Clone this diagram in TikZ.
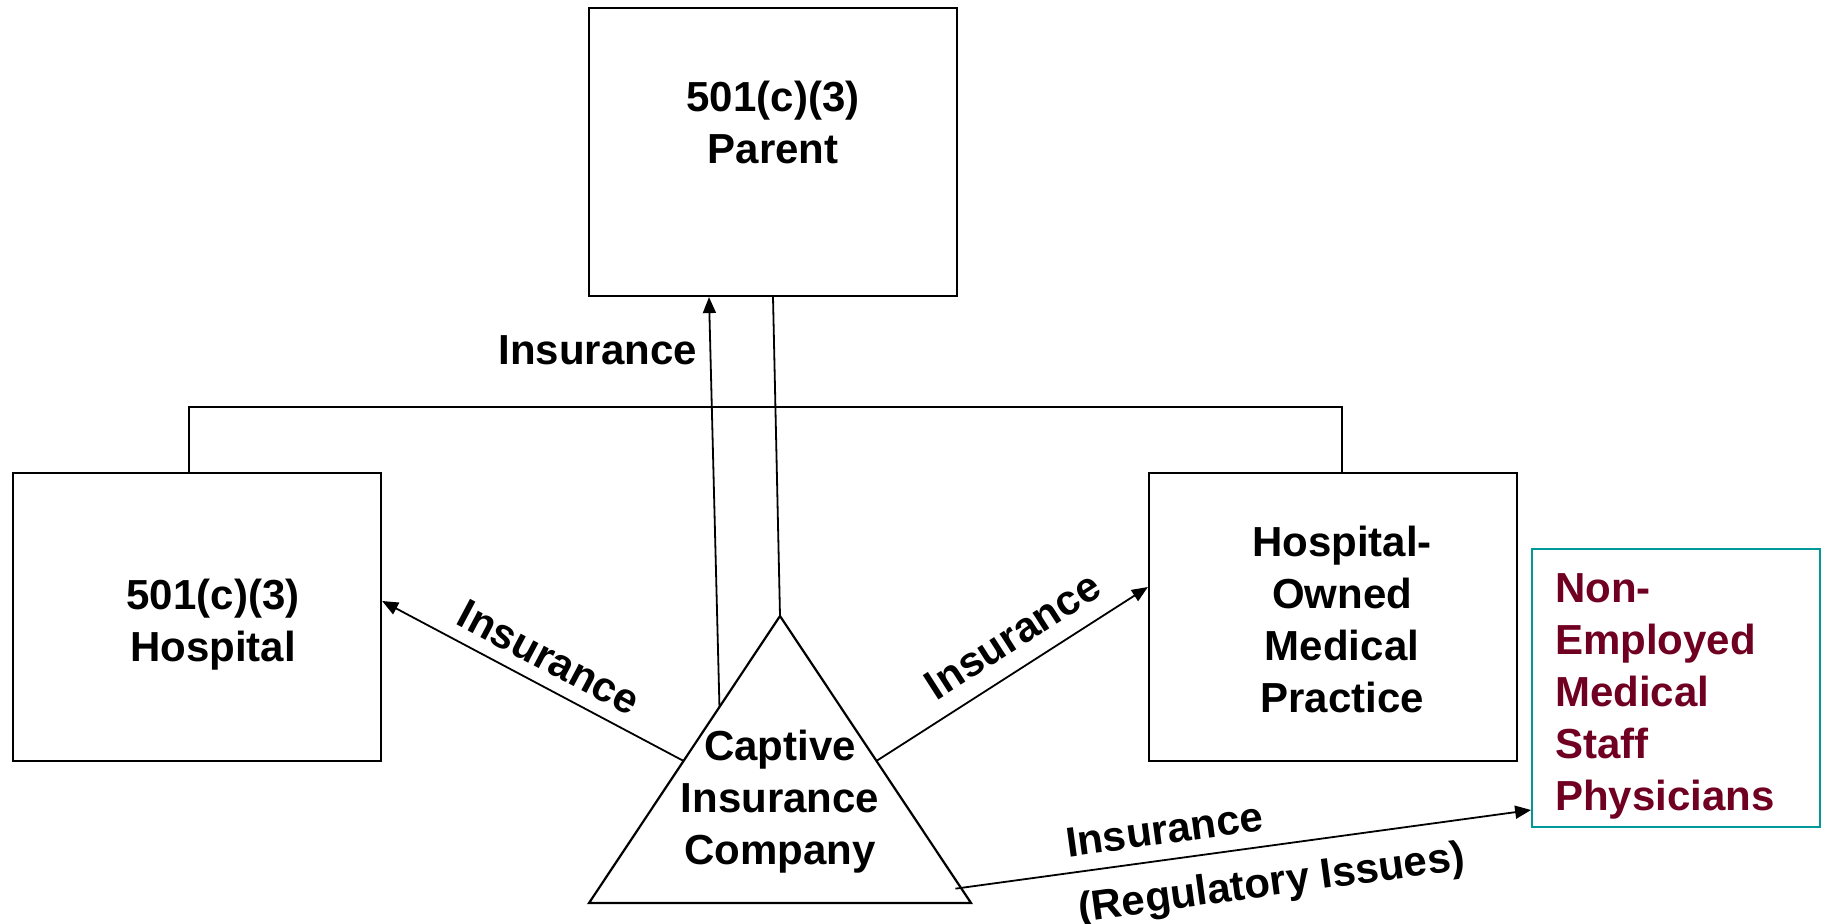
\documentclass[tikz,border=0pt]{standalone}
\usepackage{fontspec}
\setmainfont{Liberation Sans}
\usepackage{xcolor}
\usetikzlibrary{arrows.meta,calc}
\definecolor{staffred}{RGB}{112,0,34}
\definecolor{staffteal}{RGB}{0,153,153}
\newcommand{\diagfont}{\fontsize{21}{26}\selectfont\bfseries}

\begin{document}
\begin{tikzpicture}[
    x=0.5pt, y=-0.5pt,
    orgbox/.style={rectangle, draw=black, line width=1.1pt, minimum width=184pt, minimum height=144pt},
    staffbox/.style={rectangle, draw=staffteal, line width=0.9pt, minimum width=144pt, minimum height=139pt},
    link/.style={draw=black, line width=0.9pt},
    insarrow/.style={link, -{Triangle[length=8pt,width=6.5pt]}},
    lbl/.style={font=\diagfont}
]
\useasboundingbox (0,0) rectangle (1823,924);

% Boxes
\node[orgbox] (parent) at (773,152) {};
\node[lbl, align=center] (parenttext) at ($(parent.center)+(0,-30)$) {501(c)(3)\\Parent};
\node[orgbox] (hosp) at (197,617) {};
\node[lbl, align=center] (hosptext) at ($(hosp.center)+(16,8)$) {501(c)(3)\\Hospital};
\node[orgbox] (prac) at (1333,617) {};
\node[lbl, align=center] (practext) at ($(prac.center)+(9,2)$) {Hospital-\\Owned\\Medical\\Practice};
\node[staffbox] (staff) at (1676,688) {};
\node[lbl, align=left, text=staffred, anchor=west] (stafftext) at ($(staff.west)+(17,8)$) {Non-\\Employed\\Medical\\Staff\\Physicians};

% Captive triangle
\coordinate (capApex) at (780,616);
\coordinate (capLeft) at (589,903);
\coordinate (capRight) at (971,903);
\draw[link, line width=1.1pt] (capLeft) -- (capApex) -- (capRight) -- cycle;
\node[lbl, align=center] (captive) at (780,802) {Captive\\Insurance\\Company};

% Ownership lines
\draw[link] (parent.south) -- (capApex);
\draw[link] ($(hosp.north)+(-8,0)$) -- ++(0,-65) -| ($(prac.north)+(9,0)$);

% Insurance arrows
\draw[insarrow] ($(capLeft)!0.683!(capApex)$) -- ($(parent.south)+(-64,0)$)
    node[lbl, pos=0.87, left=3pt] {Insurance};
\draw[insarrow] ($(capLeft)!0.495!(capApex)$) -- ($(hosp.east)+(0,-16)$)
    node[lbl, pos=0.49, sloped, above=3pt] {Insurance};
\draw[insarrow] ($(capRight)!0.495!(capApex)$) -- ($(prac.west)+(0,-30)$)
    node[lbl, pos=0.565, sloped, above=5pt] {Insurance};
\draw[insarrow] ($(capRight)!0.05!(capApex)+(-6,0)$) -- ($(staff.west)+(0,122)$)
    node[lbl, pos=0.37, sloped, above=4pt] {Insurance}
    node[lbl, pos=0.54, sloped, below=6pt] {(Regulatory Issues)};

\end{tikzpicture}
\end{document}
